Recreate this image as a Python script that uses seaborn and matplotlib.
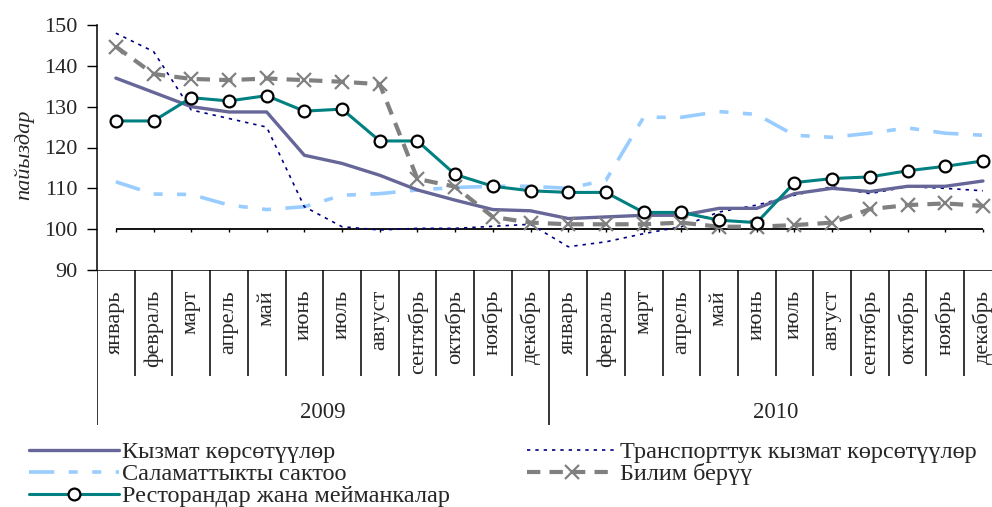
import numpy as np
import matplotlib
matplotlib.use('Agg')
import matplotlib.pyplot as plt
import seaborn as sns

sns.set_style('white')
plt.rcParams['font.family'] = ['Liberation Serif', 'DejaVu Serif']

months = ['январь', 'февраль', 'март', 'апрель', 'май', 'июнь', 'июль', 'август',
          'сентябрь', 'октябрь', 'ноябрь', 'декабрь']
years = ['2009', '2010']
labels = months * 2

kyzmat = [137.0, 133.5, 130.0, 128.7, 128.7, 118.1, 116.1, 113.2, 109.6, 107.1, 104.8, 104.5,
          102.6, 103.0, 103.4, 103.4, 105.1, 105.1, 108.7, 110.0, 109.2, 110.5, 110.5, 111.8]
transport = [148.0, 143.5, 129.2, 127.1, 125.0, 105.5, 100.6, 99.8, 100.2, 100.2, 100.7, 101.2,
             95.7, 96.9, 98.9, 100.6, 104.2, 105.9, 108.3, 110.4, 108.7, 110.4, 110.0, 109.4]
salamat = [111.6, 108.6, 108.5, 105.9, 104.8, 105.5, 108.3, 108.7, 109.6, 110.2, 110.5, 110.5,
           110.0, 112.0, 127.4, 127.4, 128.8, 128.1, 123.0, 122.5, 123.5, 124.8, 123.5, 123.0]
bilim = [144.7, 138.0, 136.8, 136.5, 136.9, 136.5, 136.1, 135.5, 112.3, 110.4, 103.0, 101.6,
         101.2, 101.2, 101.2, 101.6, 100.6, 100.6, 101.0, 101.6, 104.9, 105.9, 106.3, 105.7]
restoran = [126.5, 126.5, 132.2, 131.4, 132.7, 128.9, 129.4, 121.6, 121.6, 113.4, 110.5, 109.4,
            109.0, 109.0, 104.1, 104.1, 102.2, 101.6, 111.4, 112.4, 112.8, 114.3, 115.4, 116.7]

names = ['Кызмат көрсөтүүлөр', 'Транспорттук кызмат көрсөтүүлөр', 'Саламаттыкты сактоо',
         'Билим берүү', 'Ресторандар жана мейманкалар']

x = np.arange(len(labels))
W, H = 992, 507
fig = plt.figure(figsize=(W / 100, H / 100), dpi=100)
ax = fig.add_axes([97 / W, 1 - 270 / H, 904.8 / W, 245 / H])
ax2 = fig.add_axes([97 / W, 1 - 425 / H, 904.8 / W, 155 / H])

handles = {}
sns.lineplot(x=x, y=salamat, ax=ax, color='#99CCFF', lw=2.6,
             linestyle=(0, (7, 4, 2.5, 4, 2.5, 4)), label=names[2], legend=False)
handles[2] = ax.lines[-1]
sns.lineplot(x=x, y=transport, ax=ax, color='#000080', lw=1.2,
             linestyle=(0, (2, 3)), label=names[1], legend=False)
handles[1] = ax.lines[-1]
sns.lineplot(x=x, y=kyzmat, ax=ax, color='#666699', lw=2.4, label=names[0], legend=False)
handles[0] = ax.lines[-1]
sns.lineplot(x=x, y=bilim, ax=ax, color='#808080', lw=3.0, linestyle=(0, (3.2, 2.2)),
             marker='x', markersize=10, markeredgewidth=1.6, markeredgecolor='#808080',
             label=names[3], legend=False)
handles[3] = ax.lines[-1]
sns.lineplot(x=x, y=restoran, ax=ax, color='#008080', lw=2.2, marker='o', markersize=8.5,
             markerfacecolor='white', markeredgecolor='black', markeredgewidth=1.6,
             label=names[4], legend=False)
handles[4] = ax.lines[-1]

# category axis crossing at 100
ax.hlines(100, x[0], x[-1], color='black', lw=1.3, zorder=1)
ax.vlines(x, 99.2, 100, color='black', lw=1, zorder=1)

ax.set_xlim(-0.5, len(labels) - 0.5)
ax.set_ylim(90, 150)
ax.set_yticks(np.arange(90, 151, 10))
ax.set_xticks([])
ax.tick_params(axis='y', left=True, length=7, width=1, pad=7, labelsize=16, color='black')
for s in ['top', 'right', 'bottom']:
    ax.spines[s].set_visible(False)
ax.spines['left'].set_color('black')
ax.spines['left'].set_linewidth(1.1)
ax.set_ylabel('пайыздар', fontsize=16, style='italic')
ax.yaxis.set_label_coords(-0.069, 0.47)
ax.set_facecolor('none')

# two-level category table
ax2.set_xlim(-0.5, len(labels) - 0.5)
ax2.set_ylim(155, 0)
ax2.axis('off')
ax2.hlines(0, -0.5, len(labels) - 0.5, color='black', lw=1.1)
for i in range(1, len(labels)):
    if i % 12 == 0:
        ax2.vlines(i - 0.5, 0, 155, color='black', lw=1.1)
    else:
        ax2.vlines(i - 0.5, 0, 106, color='black', lw=1.1)
ax2.vlines(-0.5, 0, 155, color='black', lw=1.1)
for i, lab in enumerate(labels):
    ax2.text(i, 20, lab, rotation=90, ha='center', va='top', fontsize=16)
for k, yr in enumerate(years):
    ax2.text(k * 12 + 5.5, 142, yr, ha='center', va='center', fontsize=16.5)

# legend in two blocks
leg_kw = dict(frameon=False, fontsize=17.5, handlelength=3.7, handletextpad=0.12,
              labelspacing=0.0, borderpad=0, borderaxespad=0, numpoints=1)
fig.legend([handles[0], handles[2], handles[4]], [names[0], names[2], names[4]],
           loc='upper left', bbox_to_anchor=(29 / W, 1 - 441 / H), **leg_kw)
fig.legend([handles[1], handles[3]], [names[1], names[3]],
           loc='upper left', bbox_to_anchor=(527 / W, 1 - 441 / H), **leg_kw)

fig.savefig('out.png', dpi=100)
